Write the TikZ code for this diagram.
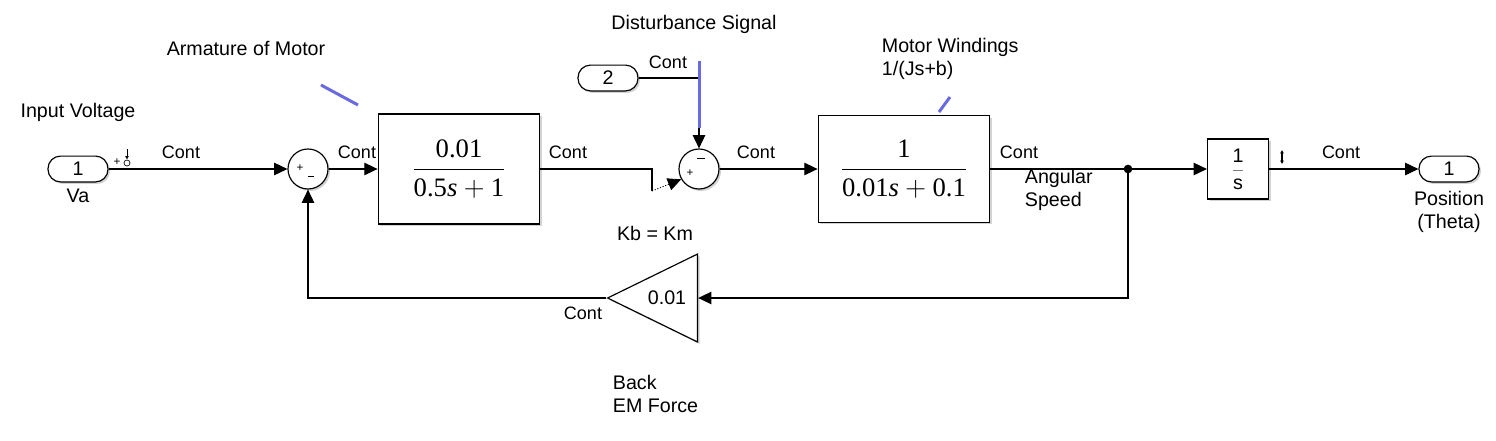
\documentclass[tikz,border=0pt]{standalone}
\usepackage{amsmath}
\usepackage{fontspec}
\setmainfont{Liberation Sans}
\newfontfamily\tffont{Liberation Serif}
\usetikzlibrary{arrows.meta,shapes.geometric,shadows}
\definecolor{hilite}{RGB}{105,105,225}

\begin{document}
\begin{tikzpicture}[x=0.6pt,y=-0.6pt,
    every node/.style={font=\fontsize{11.8}{14}\selectfont},
    wire/.style={line width=0.7pt},
    sig/.style={wire,-{Triangle[length=8pt,width=7.5pt]}},
    blk/.style={draw,line width=0.7pt,fill=white,drop shadow={shadow xshift=1.2pt,shadow yshift=-1.2pt,opacity=0.35}},
    port/.style={blk,rounded corners=7.5pt,minimum width=36pt,minimum height=15.5pt,inner sep=0pt},
    sumblk/.style={blk,circle,minimum size=24pt,inner sep=0pt},
    tfblk/.style={blk,inner sep=0pt,font=\fontsize{16}{19}\selectfont},
    tag/.style={font=\fontsize{10.8}{12}\selectfont},
    sgn/.style={font=\fontsize{7}{8}\selectfont,inner sep=0pt},
    hl/.style={hilite,line width=1.8pt}]
    \useasboundingbox (0,0) rectangle (1496,440);

    \node[port] (inp) at (78,169) {1};
    \node[sumblk] (s1) at (308,169) {};
    \node[tfblk,minimum width=97pt,minimum height=66pt] (b1) at (459,169)
        {$\dfrac{\text{\tffont 0.01}}{\text{\tffont 0.5\textit{s}}+\text{\tffont 1}}$};
    \node[port] (dist) at (608,78) {2};
    \node[sumblk] (s2) at (699,169) {};
    \node[tfblk,minimum width=103pt,minimum height=64pt] (b2) at (904,169)
        {$\dfrac{\text{\tffont 1}}{\text{\tffont 0.01\textit{s}}+\text{\tffont 0.1}}$};
    \node[blk,minimum width=36.6pt,minimum height=36pt,inner sep=0pt] (integ) at (1238,169) {{\color{gray}$\dfrac{\color{black}\textnormal{1}}{\color{black}\textnormal{s}}$}};
    \node[port] (outp) at (1449,169) {1};
    \node[blk,isosceles triangle,shape border rotate=180,isosceles triangle stretches,
          minimum width=52.8pt,minimum height=54pt,inner sep=0pt] (gain) at (667,298) {0.01};

    \node[sgn] (s1p) at (300,168) {+};
    \node[sgn] (s1m) at (311,176) {\rule{4pt}{0.5pt}};
    \node[sgn] (s2m) at (701,158) {\rule{5pt}{0.6pt}};
    \node[sgn] (s2p) at (690,173) {+};

    \coordinate (kink) at (652,191);
    \coordinate (jn) at (1128,169);
    \draw[sig] (inp.east) -- (s1.west);
    \draw[sig] (s1.east) -- (b1.west);
    \draw[wire] (b1.east) -| (kink);
    \draw[sig,densely dotted,line width=0.5pt] (kink) -- (s2.210);
    \draw[sig] (dist.east) -| (s2.north);
    \draw[sig] (s2.east) -- (b2.west);
    \draw[sig] (b2.east) -- (integ.west);
    \draw[sig] (integ.east) -- (outp.west);
    \draw[sig] (jn) |- (gain.lower side);
    \draw[sig] (gain.apex) -| (s1.south);
    \fill (jn) circle (2.6pt);

    \draw[hl] (699,61) -- (699,128);
    \draw[hl] (321,85) -- (358,105);
    \draw[hl] (939,112) -- (950,97);

    \node[sgn] (inplus) at (117,162) {+};
    \node[circle,draw,line width=0.4pt,inner sep=0pt,minimum size=3.6pt] (ring) at (127,163) {};
    \coordinate (ringtop) at (127,149);
    \draw[-{Latex[length=2.2pt,width=2.4pt]},line width=0.5pt] (ringtop) -- (ring.north);
    \coordinate (dimtop) at (1282,150);
    \coordinate (dimbot) at (1282,164);
    \draw[{Latex[length=2pt,width=2.4pt]}-{Latex[length=2pt,width=2.4pt]},line width=0.8pt] (dimtop) -- (dimbot);

    \node[tag] (c1) at (181,152) {Cont};
    \node[tag] (c2) at (357,152) {Cont};
    \node[tag] (c3) at (568,152) {Cont};
    \node[tag] (c4) at (668,62) {Cont};
    \node[tag] (c5) at (756,152) {Cont};
    \node[tag] (c6) at (1019,152) {Cont};
    \node[tag] (c7) at (1341,152) {Cont};
    \node[tag] (c8) at (583,313) {Cont};

    \node (involt) at (78,112) {Input Voltage};
    \node (va) at (78,196) {Va};
    \node (arm) at (246,48) {Armature of Motor};
    \node (dsig) at (694,24) {Disturbance Signal};
    \node[anchor=west,align=left] (wind) at (876,59) {Motor Windings\\1/(Js+b)};
    \node[anchor=west,align=left] (speed) at (1019,190) {Angular\\Speed};
    \node (kb) at (655,233) {Kb = Km};
    \node[align=center] (pos) at (1449,212) {Position\\(Theta)};
    \node[anchor=west,align=left] (bemf) at (607,394) {Back\\EM Force};
\end{tikzpicture}
\end{document}
